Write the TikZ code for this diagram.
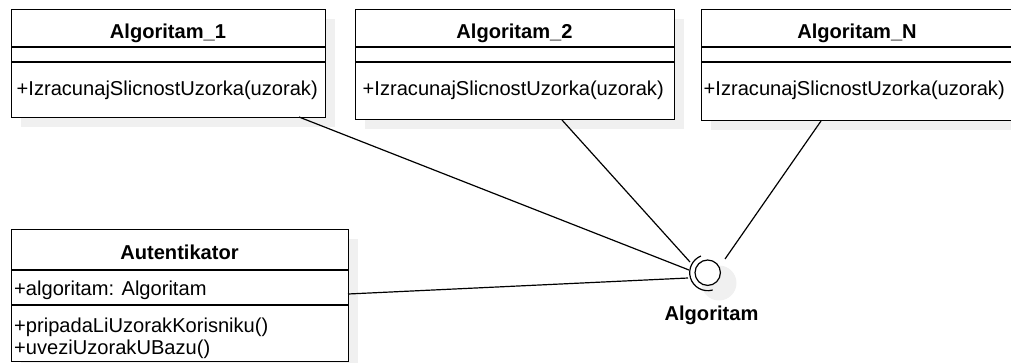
\documentclass[tikz,border=0pt]{standalone}
\usepackage{fontspec}
\setmainfont{Liberation Sans}
\definecolor{shadowgray}{HTML}{F0F0F0}
\tikzset{
  classbox/.style={draw, line width=1.2pt, fill=white, anchor=north west,
    inner sep=0pt},
  divider/.style={line width=1.2pt},
  shadowfill/.style={fill=shadowgray, draw=none},
  txt/.style={inner sep=0pt, font=\fontsize{20.1}{23}\selectfont},
  titletxt/.style={txt, anchor=base, font=\fontsize{20.1}{23}\selectfont\bfseries},
  membertxt/.style={txt, anchor=base west},
  link/.style={line width=1.2pt},
}
\begin{document}
\begin{tikzpicture}[x=1pt,y=-1pt]
\useasboundingbox (0,0) rectangle (1011,362);
\clip (0,0) rectangle (1011,362);

% drop shadows
\fill[shadowfill] (21,19) rectangle (335,127);
\fill[shadowfill] (365,19) rectangle (684,129);
\fill[shadowfill] (711,19) rectangle (1030,130);
\fill[shadowfill] (21,239) rectangle (358,372);
\fill[shadowfill] (719,283) circle (17.5);

% class Algoritam_1
\node[classbox, minimum width=314pt, minimum height=108pt] (a1) at (11,9) {};
\draw[divider] (11,47) -- (325,47);
\draw[divider] (11,62) -- (325,62);
\node[titletxt] (a1t) at (168,38.5) {Algoritam\_1};
\node[membertxt] (a1m) at (16.5,95) {+IzracunajSlicnostUzorka(uzorak)};

% class Algoritam_2
\node[classbox, minimum width=319pt, minimum height=110pt] (a2) at (355,9) {};
\draw[divider] (355,47) -- (674,47);
\draw[divider] (355,62) -- (674,62);
\node[titletxt] (a2t) at (514.5,38.5) {Algoritam\_2};
\node[membertxt] (a2m) at (362.5,95) {+IzracunajSlicnostUzorka(uzorak)};

% class Algoritam_N
\node[classbox, minimum width=319pt, minimum height=111pt] (aN) at (701,9) {};
\draw[divider] (701,47) -- (1020,47);
\draw[divider] (701,62) -- (1020,62);
\node[titletxt] (aNt) at (857,38.5) {Algoritam\_N};
\node[membertxt] (aNm) at (703.5,95) {+IzracunajSlicnostUzorka(uzorak)};

% class Autentikator
\node[classbox, minimum width=337pt, minimum height=132pt] (aut) at (11,229) {};
\draw[divider] (11,270) -- (348,270);
\draw[divider] (11,305) -- (348,305);
\node[titletxt] (autt) at (179.5,259) {Autentikator};
\node[membertxt] (auta) at (14,295) {+algoritam: Algoritam};
\node[membertxt] (autm1) at (14,332) {+pripadaLiUzorakKorisniku()};
\node[membertxt] (autm2) at (14,354) {+uveziUzorakUBazu()};

% provided interface (ball) and required interface (socket)
\node[circle, draw, line width=1.2pt, fill=white, inner sep=0pt,
  minimum size=25.4pt] (ball) at (707.7,272.7) {};
\draw[link] (ball.center) ++(74:18) arc[start angle=74, end angle=248, radius=18];
\node[titletxt] (iface) at (711.5,320.5) {Algoritam};

% connection points
\coordinate (a1out) at (299,117);
\coordinate (a2out) at (562,120);
\coordinate (aNout) at (821,121);
\coordinate (autout) at (348,294);
\coordinate (s1) at (689,270);
\coordinate (s2) at (690,262);
\coordinate (sN) at (725,259);
\coordinate (sA) at (688,278);

% connectors
\draw[link] (a1out) -- (s1);
\draw[link] (a2out) -- (s2);
\draw[link] (aNout) -- (sN);
\draw[link] (autout) -- (sA);
\end{tikzpicture}
\end{document}
